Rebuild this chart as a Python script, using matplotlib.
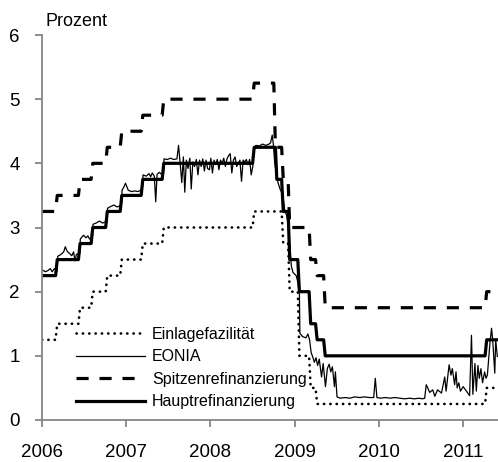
import matplotlib
matplotlib.use("Agg")
import matplotlib.pyplot as plt
import matplotlib.dates as mdates
import pandas as pd

plt.rcParams['font.family'] = ['Liberation Sans', 'DejaVu Sans']

# Leitzinsen der EZB (Aenderungsdaten, Stufen)
rate_dates = ["2006-01-01", "2006-03-08", "2006-06-15", "2006-08-09", "2006-10-11",
              "2006-12-13", "2007-03-14", "2007-06-13", "2008-07-09", "2008-10-09",
              "2008-10-15", "2008-11-12", "2008-12-10", "2009-01-21", "2009-03-11",
              "2009-04-08", "2009-05-13", "2011-04-13", "2011-06-01"]
einlage = [1.25, 1.50, 1.75, 2.00, 2.25, 2.50, 2.75, 3.00, 3.25, 3.25,
           3.25, 2.75, 2.00, 1.00, 0.50, 0.25, 0.25, 0.50, 0.50]
spitzen = [3.25, 3.50, 3.75, 4.00, 4.25, 4.50, 4.75, 5.00, 5.25, 4.25,
           4.25, 3.75, 3.00, 3.00, 2.50, 2.25, 1.75, 2.00, 2.00]
haupt = [2.25, 2.50, 2.75, 3.00, 3.25, 3.50, 3.75, 4.00, 4.25, 4.25,
         3.75, 3.25, 2.50, 2.00, 1.50, 1.25, 1.00, 1.25, 1.25]

# EONIA
eonia_dates = [
    "2006-01-02", "2006-01-16", "2006-01-27", "2006-02-06", "2006-02-14", "2006-02-24",
    "2006-03-07", "2006-03-10", "2006-03-24", "2006-04-05", "2006-04-12", "2006-04-20",
    "2006-05-02", "2006-05-10", "2006-05-18", "2006-05-24", "2006-05-30", "2006-06-14",
    "2006-06-16", "2006-06-30", "2006-07-11", "2006-07-19", "2006-07-26", "2006-08-08",
    "2006-08-10", "2006-08-24", "2006-09-07", "2006-09-21", "2006-10-04", "2006-10-10",
    "2006-10-12", "2006-10-27", "2006-11-09", "2006-11-23", "2006-12-06", "2006-12-12",
    "2006-12-14", "2006-12-22", "2006-12-29", "2007-01-10", "2007-01-24", "2007-02-07",
    "2007-02-21", "2007-03-05", "2007-03-13", "2007-03-15", "2007-03-29", "2007-04-10",
    "2007-04-17", "2007-04-24", "2007-05-03", "2007-05-09", "2007-05-15", "2007-05-25",
    "2007-06-05", "2007-06-12", "2007-06-14", "2007-06-28", "2007-07-12", "2007-07-26",
    "2007-08-09", "2007-08-16", "2007-08-23", "2007-08-30", "2007-09-06", "2007-09-12",
    "2007-09-19", "2007-09-26", "2007-10-04", "2007-10-10", "2007-10-17", "2007-10-25",
    "2007-11-01", "2007-11-08", "2007-11-15", "2007-11-22", "2007-11-29", "2007-12-06",
    "2007-12-13", "2007-12-20", "2007-12-28", "2008-01-03", "2008-01-10", "2008-01-17",
    "2008-01-24", "2008-01-31", "2008-02-07", "2008-02-14", "2008-02-21", "2008-02-28",
    "2008-03-06", "2008-03-13", "2008-03-20", "2008-03-27", "2008-04-03", "2008-04-10",
    "2008-04-17", "2008-04-24", "2008-05-08", "2008-05-15", "2008-05-22", "2008-05-29",
    "2008-06-05", "2008-06-12", "2008-06-19", "2008-06-26", "2008-07-03", "2008-07-09",
    "2008-07-17", "2008-07-31", "2008-08-14", "2008-08-28", "2008-09-11", "2008-09-18",
    "2008-09-25", "2008-09-30", "2008-10-06", "2008-10-13", "2008-10-20", "2008-10-29",
    "2008-11-05", "2008-11-12", "2008-11-19", "2008-11-26", "2008-12-03", "2008-12-10",
    "2008-12-17", "2008-12-24", "2009-01-07", "2009-01-14", "2009-01-21", "2009-01-23",
    "2009-02-04", "2009-02-18", "2009-02-27", "2009-03-06", "2009-03-13", "2009-03-20",
    "2009-03-27", "2009-04-03", "2009-04-10", "2009-04-17", "2009-04-27", "2009-05-04",
    "2009-05-14", "2009-05-22", "2009-05-30", "2009-06-06", "2009-06-13", "2009-06-22",
    "2009-06-26", "2009-07-03", "2009-07-17", "2009-08-07", "2009-08-28", "2009-09-18",
    "2009-10-09", "2009-10-30", "2009-11-20", "2009-12-09", "2009-12-16", "2009-12-23",
    "2010-01-07", "2010-01-28", "2010-02-18", "2010-03-11", "2010-04-01", "2010-04-22",
    "2010-05-13", "2010-06-03", "2010-06-24", "2010-07-08", "2010-07-18", "2010-07-25",
    "2010-08-09", "2010-08-22", "2010-08-31", "2010-09-12", "2010-09-29", "2010-10-13",
    "2010-10-19", "2010-11-01", "2010-11-09", "2010-11-15", "2010-11-25", "2010-12-01",
    "2010-12-06", "2010-12-13", "2010-12-20", "2011-01-01", "2011-01-15", "2011-01-29",
    "2011-02-06", "2011-02-12", "2011-02-21", "2011-02-27", "2011-03-06", "2011-03-12",
    "2011-03-19", "2011-03-26", "2011-04-04", "2011-04-10", "2011-04-16", "2011-04-27",
    "2011-05-04", "2011-05-09", "2011-05-18", "2011-05-22", "2011-05-29",
]
eonia = [
    2.34, 2.31, 2.33, 2.36, 2.31, 2.36,
    2.32, 2.55, 2.58, 2.62, 2.70, 2.63,
    2.59, 2.56, 2.62, 2.48, 2.58, 2.60,
    2.82, 2.88, 2.84, 2.87, 2.82, 2.86,
    3.05, 3.07, 3.10, 3.07, 3.09, 3.08,
    3.30, 3.33, 3.35, 3.32, 3.34, 3.36,
    3.58, 3.63, 3.69, 3.58, 3.56, 3.57,
    3.56, 3.58, 3.62, 3.82, 3.80, 3.84,
    3.79, 3.85, 3.80, 3.40, 3.83, 3.86,
    3.82, 3.84, 4.07, 4.06, 4.08, 4.06,
    4.07, 4.28, 4.00, 3.70, 4.10, 3.55,
    4.05, 3.92, 4.08, 3.60, 4.02, 3.95,
    4.06, 3.82, 4.05, 3.95, 4.07, 3.88,
    4.05, 3.92, 3.90, 4.08, 3.85, 4.05,
    3.98, 4.06, 3.90, 4.05, 4.00, 4.08,
    3.95, 4.07, 4.12, 4.15, 3.85, 4.05,
    4.10, 3.95, 4.05, 3.72, 4.05, 4.02,
    4.06, 3.98, 4.06, 3.82, 3.95, 4.25,
    4.28, 4.27, 4.30, 4.28, 4.30, 4.32,
    4.44, 4.30, 4.00, 3.85, 3.70, 3.60,
    3.55, 3.45, 3.25, 3.20, 3.05, 2.75,
    2.40, 2.30, 2.25, 2.15, 1.95, 1.35,
    1.30, 1.28, 1.34, 1.25, 1.05, 0.98,
    0.90, 0.97, 0.85, 0.95, 0.67, 0.88,
    0.52, 0.80, 0.87, 0.75, 0.83, 0.52,
    0.75, 0.36, 0.34, 0.35, 0.34, 0.36,
    0.35, 0.36, 0.35, 0.35, 0.65, 0.35,
    0.34, 0.35, 0.34, 0.35, 0.34, 0.33,
    0.34, 0.33, 0.34, 0.33, 0.34, 0.55,
    0.43, 0.47, 0.37, 0.47, 0.42, 0.67,
    0.45, 0.86, 0.70, 0.80, 0.55, 0.75,
    0.50, 0.58, 0.45, 0.52, 0.45, 0.38,
    1.32, 0.40, 0.88, 0.45, 0.85, 0.65,
    0.80, 0.58, 0.75, 0.65, 0.70, 1.20,
    1.43, 1.25, 0.73, 1.25, 0.99,
]

rd = pd.to_datetime(rate_dates)
ed = pd.to_datetime(eonia_dates)


def weekly_steps(dates, values):
    # Wochenwerte: jeder Satz gilt bis eine Woche vor der naechsten Aenderung,
    # dann Linie zum neuen Wert (wie im Original leicht schraeg)
    xs, ys = [], []
    for i in range(len(dates) - 1):
        xs.append(dates[i])
        ys.append(values[i])
        end = dates[i + 1] - pd.Timedelta(days=7)
        if end > dates[i]:
            xs.append(end)
            ys.append(values[i])
    xs.append(dates[-1])
    ys.append(values[-1])
    return xs, ys


fig = plt.figure(figsize=(4.98, 4.62), dpi=100)
ax = fig.add_axes([42 / 498, 42 / 462, 456 / 498, 385 / 462])

x, y = weekly_steps(rd, einlage)
ax.plot(x, y, color="black", lw=1.9, linestyle=(0, (0.1, 2.3)),
        dash_capstyle="round", label="Einlagefazilität")
ax.plot(ed, eonia, color="black", lw=0.9, label="EONIA")
x, y = weekly_steps(rd, spitzen)
ax.plot(x, y, color="black", lw=2.3, linestyle=(0, (3.8, 3.4)),
        dash_capstyle="butt", label="Spitzenrefinanzierung")
x, y = weekly_steps(rd, haupt)
ax.plot(x, y, color="black", lw=2.3, label="Hauptrefinanzierung")

ax.set_ylim(0, 6)
ax.set_yticks(range(0, 7))
ax.set_xlim(pd.Timestamp("2006-01-01"), pd.Timestamp("2011-06-01"))
ax.xaxis.set_major_locator(mdates.YearLocator())
ax.xaxis.set_major_formatter(mdates.DateFormatter("%Y"))

for s in ["top", "right"]:
    ax.spines[s].set_visible(False)
for s in ["left", "bottom"]:
    ax.spines[s].set_color("#868686")
    ax.spines[s].set_linewidth(1.3)
ax.tick_params(axis="both", direction="out", length=5, width=1.3, color="#868686",
               labelsize=13.5, labelcolor="black")
ax.tick_params(axis="x", pad=12)
ax.tick_params(axis="y", pad=11)

fig.text(45 / 498, 1 - 21 / 462, "Prozent", fontsize=13, va="center", ha="left")

leg = ax.legend(loc="lower left", bbox_to_anchor=(0.075, 0.028), frameon=False,
                fontsize=11.5, handlelength=4.3, handletextpad=0.45,
                labelspacing=0.47, borderpad=0, borderaxespad=0)

fig.savefig("out.png", dpi=100)
